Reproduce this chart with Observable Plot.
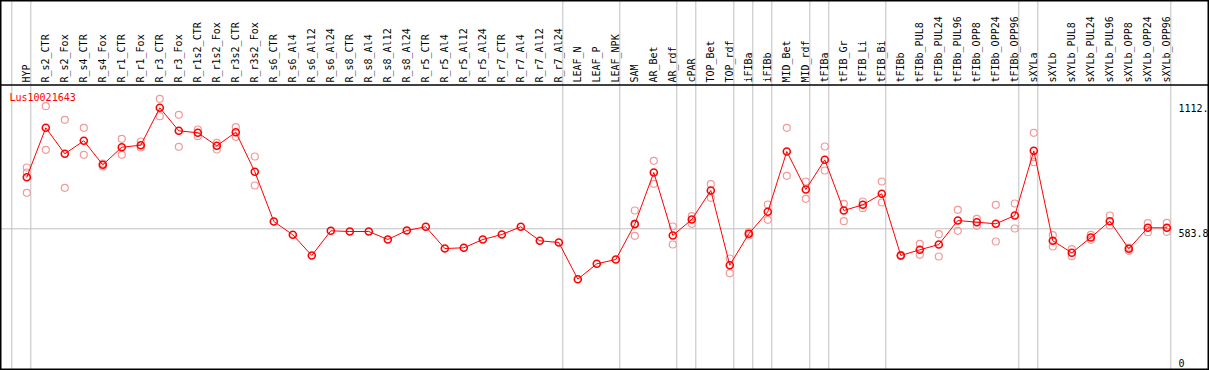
<!DOCTYPE html>
<html><head><meta charset="utf-8">
<script src="https://cdn.jsdelivr.net/npm/d3@7"></script>
<script src="https://cdn.jsdelivr.net/npm/@observablehq/plot@0.6"></script>
<style>body{margin:0;background:#fff}</style>
</head><body><div id="chart"></div>
<script>
const geneName = "Lus10021643";
const categories = ["HYP","R_s2_CTR","R_s2_Fox","R_s4_CTR","R_s4_Fox","R_r1_CTR","R_r1_Fox","R_r3_CTR","R_r3_Fox","R_r1s2_CTR","R_r1s2_Fox","R_r3s2_CTR","R_r3s2_Fox","R_s6_CTR","R_s6_Al4","R_s6_Al12","R_s6_Al24","R_s8_CTR","R_s8_Al4","R_s8_Al12","R_s8_Al24","R_r5_CTR","R_r5_Al4","R_r5_Al12","R_r5_Al24","R_r7_CTR","R_r7_Al4","R_r7_Al12","R_r7_Al24","LEAF_N","LEAF_P","LEAF_NPK","SAM","AR_Bet","AR_rdf","cPAR","TOP_Bet","TOP_rdf","iFIBa","iFIBb","MID_Bet","MID_rdf","tFIBa","tFIB_Gr","tFIB_Li","tFIB_Bi","tFIBb","tFIBb_PUL8","tFIBb_PUL24","tFIBb_PUL96","tFIBb_OPP8","tFIBb_OPP24","tFIBb_OPP96","sXYLa","sXYLb","sXYLb_PUL8","sXYLb_PUL24","sXYLb_PUL96","sXYLb_OPP8","sXYLb_OPP24","sXYLb_OPP96"];
const means = [802.5,1011.9,901.7,956.8,855.1,929.7,938.2,1096.7,999.2,990.7,935.6,993.3,825.4,
  614.7,558.3,470.6,575.3,572.3,572.3,538.4,576.6,592.2,500.2,503.2,538.4,559.6,592.2,532.9,525.7,370.1,435.4,453.6,
  603.5,822.4,555.4,623.2,746.1,429.5,562.6,655.8,911.5,750.4,876.3,661.3,685.5,732.1,470.6,494.7,517.2,619.0,611.7,605.0,640.1,914.4,532.9,482.0,546.9,616.0,499.0,588.0,588.0];
const rep1 = [843.6,1103.5,1045.9,1011.9,860.6,965.3,953.9,1134.9,1067.1,1004.7,948.4,1014.5,890.3,
  null,null,null,null,null,null,null,null,null,null,null,null,null,null,null,null,null,null,null,
  661.3,872.0,593.5,637.2,772.8,457.9,570.2,686.8,1011.9,784.3,932.7,689.7,699.5,784.3,473.0,520.2,560.9,664.3,626.2,685.5,691.0,990.7,556.6,497.3,558.3,640.1,504.5,607.5,609.2];
const rep2 = [736.4,918.7,757.6,897.5,847.9,897.5,928.4,1061.1,931.4,976.3,920.0,973.8,767.3,
  null,null,null,null,null,null,null,null,null,null,null,null,null,null,null,null,null,null,null,
  554.1,774.5,517.2,605.0,715.2,395.5,555.4,621.9,808.5,710.9,830.9,616.0,671.1,695.3,468.0,473.5,466.3,575.3,596.5,529.9,585.0,866.1,508.7,467.6,537.1,597.8,490.5,569.3,571.1];
const rep3 = [822.4,null,null,null,null,null,null,null,null,null,null,null,null,
  null,null,null,null,null,null,null,null,null,null,null,null,null,null,null,null,null,null,null,
  606.2,null,null,null,null,null,null,null,null,null,null,null,null,null,null,null,null,null,null,null,null,887.3,null,null,null,null,null,null,null];
const groupSizes = [1,28,3,3,1,2,1,1,2,1,3,7,1,7];
const yTickValues = [583.8, 1112];
const yTickLabels = ["583.8", "1112."];
const yZeroLabel = "0";

const meanData = means.map((v, i) => ({i, v}));
const repData = [];
[rep1, rep2, rep3].forEach(r => r.forEach((v, i) => { if (v != null) repData.push({i, v}); }));
const breaks = [-1];
groupSizes.reduce((acc, s) => { acc += s; breaks.push(acc - 1); return acc; }, 0);

const W = 1209, H = 370;
const chart = Plot.plot({
  width: W, height: H,
  marginTop: 0, marginBottom: 0, marginLeft: 0, marginRight: 39,
  style: {fontFamily: "DejaVu Sans Mono", fontSize: "10px", background: "white", overflow: "visible"},
  x: {domain: [0, categories.length - 1], range: [26.3, 1166.3], axis: null},
  y: {domain: [0, 1112], range: [366, 103.7], axis: null},
  marks: [
    Plot.ruleX(breaks, {x: d => d, dx: 4, stroke: "#c0c0c0", strokeWidth: 1}),
    Plot.ruleY([yTickValues[0]], {stroke: "#c0c0c0", strokeWidth: 1}),
    Plot.text(categories, {x: (d, i) => i, text: d => d, frameAnchor: "top", dy: 82, rotate: -90, textAnchor: "start", lineAnchor: "middle", fill: "black"}),
    Plot.text(yTickValues, {y: d => d, text: (d, i) => yTickLabels[i], frameAnchor: "right", dx: 8, dy: 1, textAnchor: "start", lineAnchor: "top", fill: "black"}),
    Plot.text([0], {y: d => d, text: () => yZeroLabel, frameAnchor: "right", dx: 8, textAnchor: "start", lineAnchor: "bottom", fill: "black"}),
    Plot.text([geneName], {text: d => d, frameAnchor: "top-left", dx: 9, dy: 97, textAnchor: "start", lineAnchor: "middle", fill: "red"}),
    Plot.dot(repData, {x: "i", y: "v", r: 3.5, stroke: "#f29a9a", strokeWidth: 1.2, fill: "none"}),
    Plot.line(meanData, {x: "i", y: "v", stroke: "red", strokeWidth: 1}),
    Plot.dot(meanData, {x: "i", y: "v", r: 3.5, stroke: "red", strokeWidth: 1.6, fill: "none"})
  ]
});
document.getElementById("chart").appendChild(chart);
const svg = d3.select(chart);
svg.append("rect").attr("x", 0.75).attr("y", 0.75).attr("width", W - 1.5).attr("height", H - 1.5)
  .attr("fill", "none").attr("stroke", "black").attr("stroke-width", 1.5);
svg.append("line").attr("x1", 0).attr("x2", W).attr("y1", 85).attr("y2", 85)
  .attr("stroke", "black").attr("stroke-width", 1.5);
</script>
</body></html>
